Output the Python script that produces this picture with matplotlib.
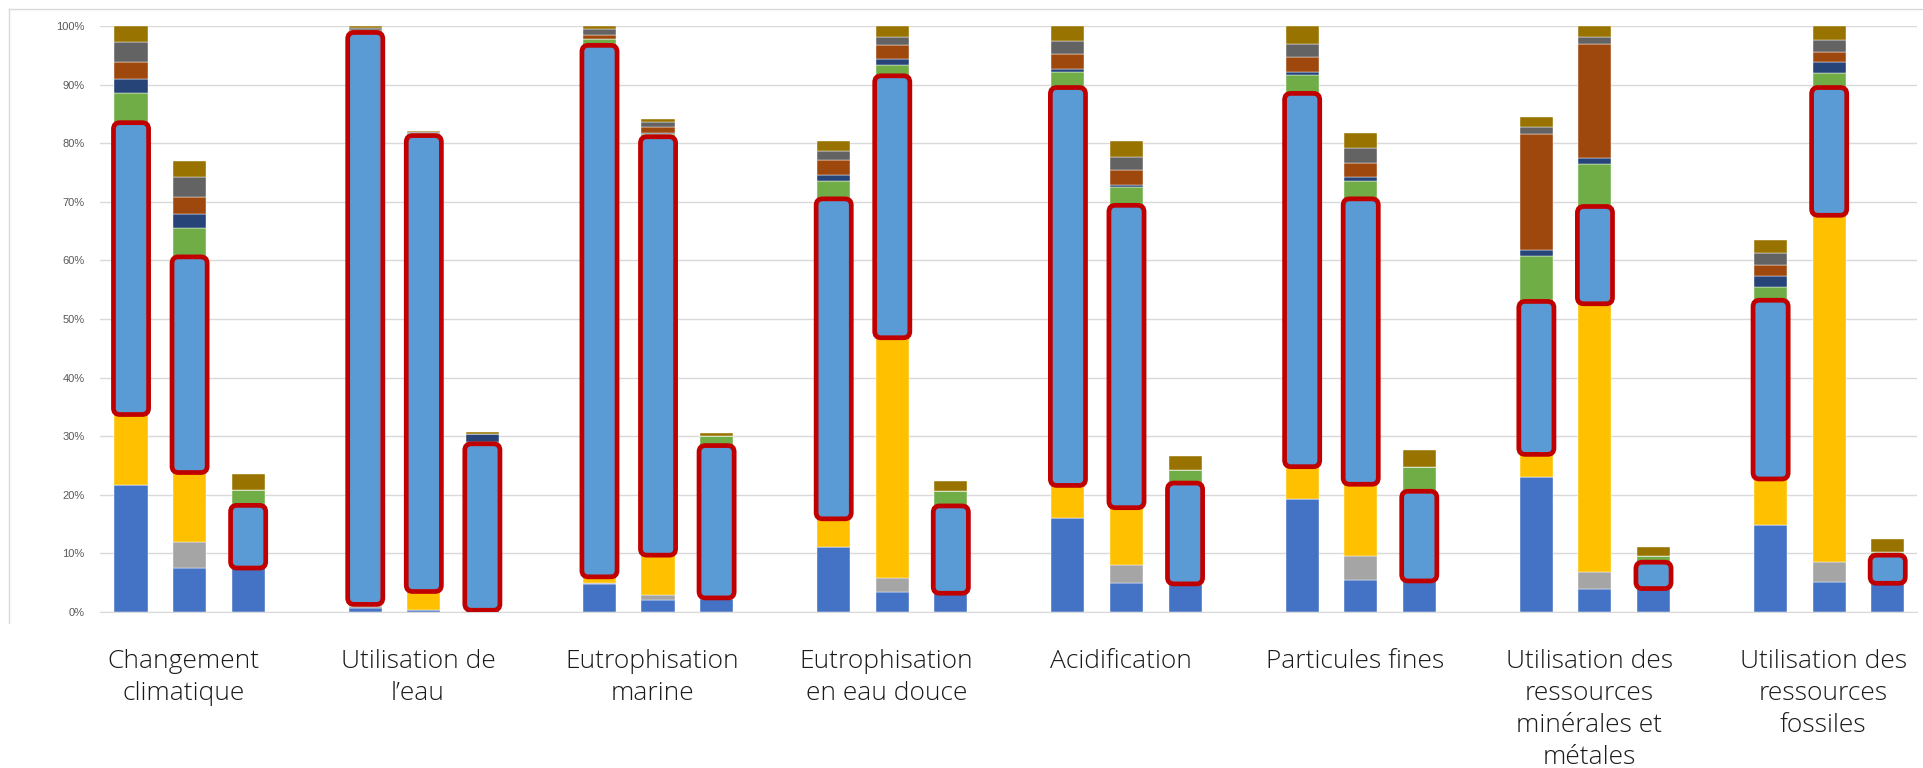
import matplotlib
matplotlib.use("Agg")
import numpy as np
import matplotlib.pyplot as plt
from matplotlib.patches import FancyBboxPatch
from matplotlib.lines import Line2D

categories = ["Changement\nclimatique", "Utilisation de\nl’eau", "Eutrophisation\nmarine",
              "Eutrophisation\nen eau douce", "Acidification", "Particules fines",
              "Utilisation des\nressources\nminérales et\nmétales",
              "Utilisation des\nressources\nfossiles"]

# parts of each bar in %, 3 bars per category
blue = [21.7, 7.5, 7.5,   0.7, 0.3, 0.3,   4.7, 2.1, 2.2,   11.1, 3.4, 3.2,
        16.1, 4.9, 4.8,   19.2, 5.5, 5.3,  23.0, 3.9, 4.0,  14.9, 5.1, 4.9]
gray = [0, 4.4, 0,        0.3, 0.1, 0,     0.3, 0.8, 0.2,   0, 2.4, 0,
        0, 3.1, 0,        0, 4.0, 0,       0, 3.0, 0,       0, 3.5, 0]
yellow = [12.0, 11.9, 0,  0.3, 3.1, 0,     1.0, 6.8, 0,     4.8, 41.0, 0,
          5.5, 9.8, 0,    5.6, 12.3, 0,    3.9, 45.7, 0,    7.8, 59.1, 0]
lightblue = [49.8, 36.8, 10.7,  97.6, 77.8, 28.4,  90.7, 71.4, 26.0,  54.6, 44.7, 14.9,
             67.9, 51.6, 17.2,  63.7, 48.7, 15.3,  26.1, 16.6, 4.5,   30.5, 21.8, 4.8]
green = [5.1, 4.9, 2.7,   0.2, 0.3, 0.3,   1.0, 0.5, 1.6,   3.0, 1.8, 2.5,
         2.7, 3.1, 2.3,   3.1, 3.1, 4.2,   7.8, 7.2, 1.0,   2.3, 2.5, 0.6]
navy = [2.4, 2.5, 0,      0.1, 0.1, 1.4,   0, 0.2, 0,       1.1, 1.0, 0,
        0.5, 0.4, 0,      0.6, 0.6, 0,     1.0, 1.1, 0,     1.9, 1.9, 0]
brown = [2.9, 2.9, 0,     0.2, 0.1, 0,     0.7, 0.9, 0,     2.5, 2.4, 0,
         2.5, 2.5, 0,     2.5, 2.4, 0,     19.7, 19.5, 0,   1.8, 1.7, 0]
darkgray = [3.3, 3.3, 0,  0.2, 0.1, 0,     1.1, 1.0, 0,     1.5, 1.5, 0,
            2.2, 2.3, 0,  2.3, 2.5, 0,     1.2, 1.2, 0,     2.0, 2.0, 0]
olive = [2.8, 2.7, 2.6,   0.4, 0.2, 0.4,   0.5, 0.5, 0.6,   1.7, 1.8, 1.7,
         2.6, 2.6, 2.4,   3.0, 2.7, 2.9,   1.7, 1.8, 1.6,   2.2, 2.4, 2.2]

series = [blue, gray, yellow, lightblue, green, navy, brown, darkgray, olive]
colors = ["#4472C4", "#A5A5A5", "#FFC000", "#5B9BD5", "#70AD47",
          "#264478", "#9E480E", "#636363", "#997300"]

W, H = 1923, 768
fig = plt.figure(figsize=(W / 100, H / 100), dpi=100)
ax = fig.add_axes([100 / W, 1 - 612 / H, (1917 - 100) / W, (612 - 26) / H])

x = np.array([g * 4 + b for g in range(8) for b in range(3)], dtype=float)
bw = 0.565
bottom = np.zeros(len(x))
lb_bottom = None
for vals, c in zip(series, colors):
    vals = np.array(vals, dtype=float)
    if c == "#5B9BD5":
        lb_bottom = bottom.copy()
    ax.bar(x, vals, bw, bottom=bottom, color=c, edgecolor="white", linewidth=0.3, zorder=2)
    bottom += vals

ax.set_xlim(-0.53, 30.5)
ax.set_ylim(0, 100)
ax.set_yticks(np.arange(0, 101, 10))
ax.set_yticklabels([f"{v}%" for v in range(0, 101, 10)], fontsize=8,
                   color="#595959", family="Liberation Sans")
ax.set_xticks([])
ax.tick_params(axis="y", length=0, pad=11)
ax.grid(axis="y", color="#D9D9D9", linewidth=1, zorder=0)
ax.set_axisbelow(True)
for s in ["top", "right", "left"]:
    ax.spines[s].set_visible(False)
ax.spines["bottom"].set_color("#D9D9D9")

# red rounded frames around the light blue part
fig.canvas.draw()
p0 = ax.transData.transform((0, 0))
p1 = ax.transData.transform((1, 1))
aspect = (p1[0] - p0[0]) / (p1[1] - p0[1])
lb = np.array(lightblue, dtype=float)
for xi, b0, h in zip(x, lb_bottom, lb):
    bx = FancyBboxPatch((xi - 0.3, b0), 0.6, h,
                        boxstyle="round,pad=0,rounding_size=0.11",
                        mutation_aspect=aspect, facecolor="none",
                        edgecolor="#C00000", linewidth=3.4, zorder=4)
    ax.add_patch(bx)

# outer chart frame
fig.add_artist(Line2D([9 / W, 1.0], [1 - 9 / H, 1 - 9 / H], color="#D9D9D9", lw=1))
fig.add_artist(Line2D([9 / W, 9 / W], [1 - 9 / H, 1 - 623 / H], color="#D9D9D9", lw=1))

for g, name in enumerate(categories):
    xd = ax.transData.transform((g * 4 + 1, 0))[0] / W
    fig.text(xd - 0.003, 1 - 649 / H, name, ha="center", va="top", fontsize=19,
             family="Open Sans", fontweight="light", color="#1A1A1A", linespacing=1.36)

fig.savefig("out.png", dpi=100)
